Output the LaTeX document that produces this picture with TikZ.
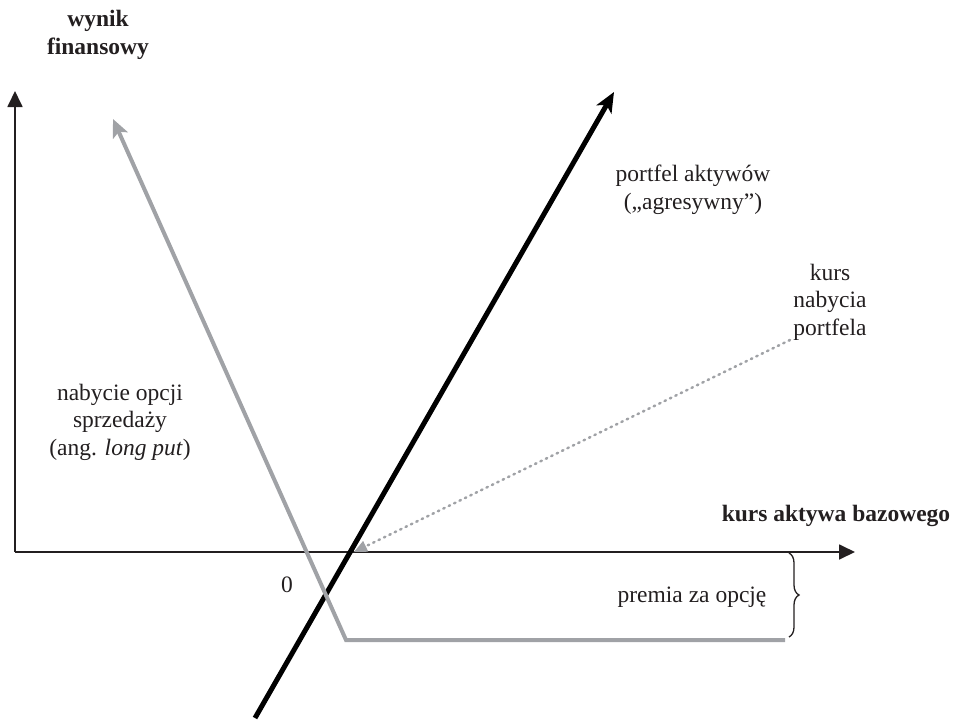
\documentclass[tikz,border=0pt]{standalone}
\usepackage{fontspec}
\setmainfont{Liberation Serif}
\usetikzlibrary{arrows.meta,calc,decorations.pathreplacing}
\definecolor{ink}{RGB}{35,31,32}
\definecolor{optgray}{RGB}{160,162,166}

\begin{document}
\begin{tikzpicture}[x=1pt, y=-1pt,
          every node/.style={font=\fontsize{23.5}{27.5}\selectfont, text=ink, align=center, inner sep=0pt},
          axisname/.style={font=\fontsize{23.5}{27.5}\selectfont\bfseries},
          axis/.style={draw=ink, line width=1.8pt, -{Triangle[length=16pt, width=15pt]}},
          portfel/.style={draw=black, line width=5pt, -{Stealth[length=20pt, width=17pt, inset=5pt]}},
          opcja/.style={draw=optgray, line width=4pt, -{Stealth[length=18pt, width=16pt, inset=4pt]}},
          nabycie/.style={draw=optgray, line width=2.5pt, dash pattern=on 1.5pt off 4.5pt, line cap=round},
          premia/.style={draw=ink, line width=1.3pt, decorate, decoration={brace, amplitude=10pt}}
        ]
        \useasboundingbox (0,0) rectangle (961,720);
        % axes
        \coordinate (O) at (15,552);
        \coordinate (ytop) at (15,91);
        \coordinate (xend) at (855,552);
        \draw[axis] (O) -- (ytop);
        \draw[axis] (O) -- (xend);
        \node[axisname] (ywynik) at (98,35) {wynik\\finansowy};
        \node[axisname] (xkurs) at (836,516) {kurs aktywa bazowego};
        \node (zero) at (287,585) {0};
        % portfel
        \coordinate (pbot) at (255,718);
        \coordinate (ptop) at (614,92);
        \draw[portfel] (pbot) -- (ptop);
        \node (portopis) at (693,190) {portfel aktywów\\(„agresywny”)};
        % long put
        \coordinate (gend) at (785,640);
        \coordinate (gcorner) at (346,640);
        \coordinate (gtop) at (113,119);
        \draw[opcja] (gend) -- (gcorner) -- (gtop);
        \node (putopis) at (120,422) {nabycie opcji\\sprzedaży\\(ang. \textit{long put})};
        % kurs nabycia
        \coordinate (kstart) at (790,340);
        \coordinate (kend) at (354,552);
        \draw[nabycie] (kstart) -- ($(kend)!13pt!(kstart)$);
        \fill[optgray] (kend) -- ++(14.3,-0.3) -- ++(-5.2,-10.8) -- cycle;
        \node (kursopis) at (830,302) {kurs\\nabycia\\portfela};
        % premia
        \draw[premia] (789,553) -- (789,637);
        \node (premiaopis) at (692,597) {premia za opcję};
\end{tikzpicture}
\end{document}
